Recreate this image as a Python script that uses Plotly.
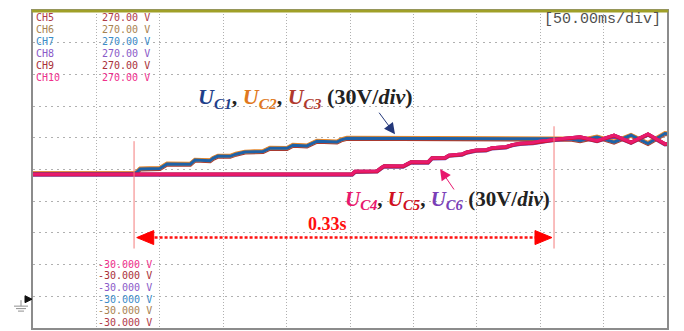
import plotly.graph_objects as go

# ---------------- data (time in ms, voltage in V) ----------------
t_up = [0, 79.7, 82, 84.5, 100, 103, 105.7, 124, 127.8, 139.6, 142, 145.9, 155.4, 160, 167.2,
        181.4, 186.9, 200.3, 205, 216, 220, 224, 239.7, 243, 247.6, 300, 350, 400, 415.6, 425,
        431.4, 444.8, 458.2, 471.6, 485.0, 498.4, 500]
uc1 = [116.2, 116.2, 117.5, 120.5, 121.0, 123.5, 125.2, 125.0, 128.9, 128.3, 130.5, 132.7, 132.5, 134.5, 136.5,
       137.0, 140.2, 140.0, 143.0, 142.3, 144.5, 146.8, 146.0, 148.0, 149.6, 149.6, 149.4, 149.3, 149.0, 148.6,
       147.3, 150.8, 145.9, 152.4, 144.6, 154.0, 153.8]
uc2 = [116.5, 116.5, 117.9, 120.9, 121.4, 123.9, 125.6, 125.4, 129.3, 128.7, 130.9, 133.1, 132.9, 134.9, 136.9,
       137.4, 140.6, 140.4, 143.4, 142.7, 144.9, 147.2, 146.4, 148.4, 150.0, 150.0, 149.8, 149.7, 149.4, 149.0,
       147.7, 151.2, 146.3, 152.8, 145.0, 154.4, 154.2]
uc3 = [116.0, 116.0, 117.2, 120.2, 120.7, 123.2, 124.9, 124.7, 128.6, 128.0, 130.2, 132.4, 132.2, 134.2, 136.2,
       136.7, 139.9, 139.7, 142.7, 142.0, 144.2, 146.5, 145.7, 147.7, 149.3, 149.3, 149.1, 149.0, 148.7, 148.3,
       147.0, 150.5, 145.6, 152.1, 144.3, 153.7, 153.5]

t_lo = [0, 251.6, 254, 271.3, 275, 277, 291.8, 295, 298.1, 311.5, 314.7, 324.9, 328, 338.3, 342, 349.4,
        357.3, 362, 373, 378, 384, 394.3, 400, 405.4, 412, 420, 431.4, 444.8, 458.2, 471.6, 485.0, 498.4, 500]
uc4 = [115.6, 115.6, 118.3, 118.6, 122.0, 123.4, 123.2, 125.5, 127.2, 127.0, 131.0, 131.2, 133.5, 134.6, 136.5, 138.3,
       138.6, 140.5, 141.5, 143.5, 144.7, 145.5, 147.0, 147.5, 148.6, 149.6, 151.0, 147.3, 152.5, 145.8, 153.6, 144.3, 144.6]
uc5 = [115.4, 115.4, 118.0, 118.3, 121.7, 123.1, 122.9, 125.2, 126.9, 126.7, 130.7, 130.9, 133.2, 134.3, 136.2, 138.0,
       138.3, 140.2, 141.2, 143.2, 144.4, 145.2, 146.7, 147.2, 148.3, 149.3, 150.7, 147.0, 152.2, 145.5, 153.3, 144.0, 144.3]
uc6 = [115.2, 115.2, 117.8, 118.1, 121.5, 122.9, 122.7, 125.0, 126.7, 126.5, 130.5, 130.7, 133.0, 134.1, 136.0, 137.8,
       138.1, 140.0, 141.0, 143.0, 144.2, 145.0, 146.5, 147.0, 148.1, 149.1, 150.5, 146.8, 152.0, 145.3, 153.1, 143.8, 144.1]

ch_names = ["CH5", "CH6", "CH7", "CH8", "CH9", "CH10"]
ch_top = ["270.00 V"] * 6
ch_bottom = ["-30.000 V"] * 6
ch_colors = ["#b03a48", "#a88250", "#3a8cc8", "#8a5ac8", "#a83038", "#f0308c"]

t_mark_start, t_mark_end = 79.7, 410.9
interval_label = "0.33s"
timebase_label = "[50.00ms/div]"

# ---------------- layout geometry (page pixels; page body has an 8px margin) ----------------
OFF = 8
W, H = 684 - OFF, 331 - OFF
L, R, T, B = 33, 667, 9, 328  # plot frame in page pixels


def xp(px):
    return (px - L) / (R - L)


def yp(py):
    return (B - py) / (B - T)


fig = go.Figure()

for y, c, w in [(uc3, "#a83a30", 4.4), (uc2, "#e8892a", 4.0), (uc1, "#1e62a8", 3.0)]:
    fig.add_trace(go.Scatter(x=t_up, y=y, mode="lines", line=dict(color=c, width=w), hoverinfo="skip"))
for y, c, w in [(uc6, "#7040b0", 4.2), (uc5, "#d01828", 3.8), (uc4, "#e8196e", 3.0)]:
    fig.add_trace(go.Scatter(x=t_lo, y=y, mode="lines", line=dict(color=c, width=w), hoverinfo="skip"))

shapes = []
shapes.append(dict(type="line", xref="x", yref="y", x0=t_mark_start, x1=t_mark_start, y0=146.8, y1=45.2,
                   line=dict(color="#f47c7c", width=1)))
shapes.append(dict(type="line", xref="x", yref="y", x0=t_mark_end, x1=t_mark_end, y0=160.9, y1=45.2,
                   line=dict(color="#f47c7c", width=1)))
shapes.append(dict(type="line", xref="x", yref="y", x0=88, x1=403, y0=55.6, y1=55.6,
                   line=dict(color="#ff1010", width=2.5, dash="3px,2px")))
shapes.append(dict(type="path", xref="x", yref="y", xsizemode="pixel", ysizemode="pixel",
                   xanchor=81.8, yanchor=55.6, path="M 0,0 L 17,7 L 17,-7 Z",
                   fillcolor="#ff0000", line=dict(color="#ff0000", width=1)))
shapes.append(dict(type="path", xref="x", yref="y", xsizemode="pixel", ysizemode="pixel",
                   xanchor=409.3, yanchor=55.6, path="M 0,0 L -17,7 L -17,-7 Z",
                   fillcolor="#ff0000", line=dict(color="#ff0000", width=1)))
shapes.append(dict(type="line", xref="paper", yref="paper", x0=-0.002, x1=1.002, y0=yp(9), y1=yp(9),
                   line=dict(color="#a0a028", width=3)))
shapes.append(dict(type="path", xref="paper", yref="paper",
                   path=f"M {xp(32)},{yp(299)} L {xp(25)},{yp(295.5)} L {xp(25)},{yp(302.5)} Z",
                   fillcolor="#111111", line=dict(color="#111111", width=1)))
shapes.append(dict(type="line", xref="paper", yref="paper", x0=xp(21), x1=xp(21), y0=yp(300), y1=yp(306),
                   line=dict(color="#909090", width=1)))
for py, a, b in [(306, 14, 28), (308.5, 16, 26), (311, 18, 24)]:
    shapes.append(dict(type="line", xref="paper", yref="paper", x0=xp(a), x1=xp(b), y0=yp(py), y1=yp(py),
                       line=dict(color="#909090", width=1)))

annotations = []
mono = "DejaVu Sans Mono"
top_rows = [16, 28, 40, 52, 64, 76]
bot_rows = [264, 275, 287, 299, 310, 322]
for i in range(6):
    annotations.append(dict(xref="paper", yref="paper", x=xp(34), y=yp(top_rows[i]), text=ch_names[i],
                            showarrow=False, xanchor="left", yanchor="middle",
                            font=dict(family=mono, size=10, color=ch_colors[i])))
    annotations.append(dict(xref="paper", yref="paper", x=xp(100), y=yp(top_rows[i]), text=ch_top[i],
                            showarrow=False, xanchor="left", yanchor="middle",
                            font=dict(family=mono, size=10, color=ch_colors[i])))
bot_colors = list(reversed(ch_colors))
for i in range(6):
    annotations.append(dict(xref="paper", yref="paper", x=xp(96), y=yp(bot_rows[i]), text=ch_bottom[i],
                            showarrow=False, xanchor="left", yanchor="middle",
                            font=dict(family=mono, size=10, color=bot_colors[i])))

annotations.append(dict(xref="paper", yref="paper", x=xp(663), y=yp(18), text=timebase_label,
                        showarrow=False, xanchor="right", yanchor="middle",
                        font=dict(family="Liberation Mono", size=15, color="#505050")))


def ulab(n, color):
    return (f"<span style='color:{color}'><b><i>U</i></b><sub><b><i>C{n}</i></b></sub></span>")


serif = "Liberation Serif"
up_text = (ulab(1, "#1f3f8a") + "<b>, </b>" + ulab(2, "#e07820") + "<b>, </b>" + ulab(3, "#b03a2e")
           + "<b> (30V/<i>div</i>)</b>")
lo_text = (ulab(4, "#e8186e") + "<b>, </b>" + ulab(5, "#d01020") + "<b>, </b>" + ulab(6, "#7a3fb8")
           + "<b> (30V/<i>div</i>)</b>")
annotations.append(dict(xref="x", yref="y", x=215, y=187.2, text=up_text, showarrow=False,
                        font=dict(family=serif, size=22, color="#222222")))
annotations.append(dict(xref="x", yref="y", x=326.5, y=91.3, text=lo_text, showarrow=False,
                        font=dict(family=serif, size=21, color="#222222")))
annotations.append(dict(xref="x", yref="y", x=232.6, y=68.7, text=f"<b>{interval_label}</b>", showarrow=False,
                        font=dict(family=serif, size=18, color="#ff1010")))
annotations.append(dict(xref="x", yref="y", x=285.5, y=153.4, text="", showarrow=True, ax=-17, ay=-23,
                        arrowhead=2, arrowsize=2.2, arrowwidth=1, arrowcolor="#24387a"))
annotations.append(dict(xref="x", yref="y", x=321.0, y=120.5, text="", showarrow=True, ax=15, ay=22,
                        arrowhead=2, arrowsize=2.2, arrowwidth=1, arrowcolor="#e8186e"))

fig.update_layout(
    width=W, height=H, autosize=False,
    margin=dict(l=L - OFF, r=684 - R, t=T - OFF, b=331 - B, pad=0),
    paper_bgcolor="white", plot_bgcolor="white",
    showlegend=False,
    shapes=shapes, annotations=annotations,
    xaxis=dict(range=[0, 500], dtick=50, tick0=0, showticklabels=False, ticks="",
               showgrid=True, gridcolor="#b0b0b0", gridwidth=1, griddash="1px,2px",
               zeroline=False, showline=True, linecolor="#8c8c8c", linewidth=2, mirror=True,
               fixedrange=True),
    yaxis=dict(range=[-30, 270], dtick=30, tick0=-30, showticklabels=False, ticks="",
               showgrid=True, gridcolor="#b0b0b0", gridwidth=1, griddash="2px,4px",
               zeroline=False, showline=True, linecolor="#8c8c8c", linewidth=2, mirror=True,
               fixedrange=True),
)

fig.write_html("out.html", config={"displayModeBar": False})
